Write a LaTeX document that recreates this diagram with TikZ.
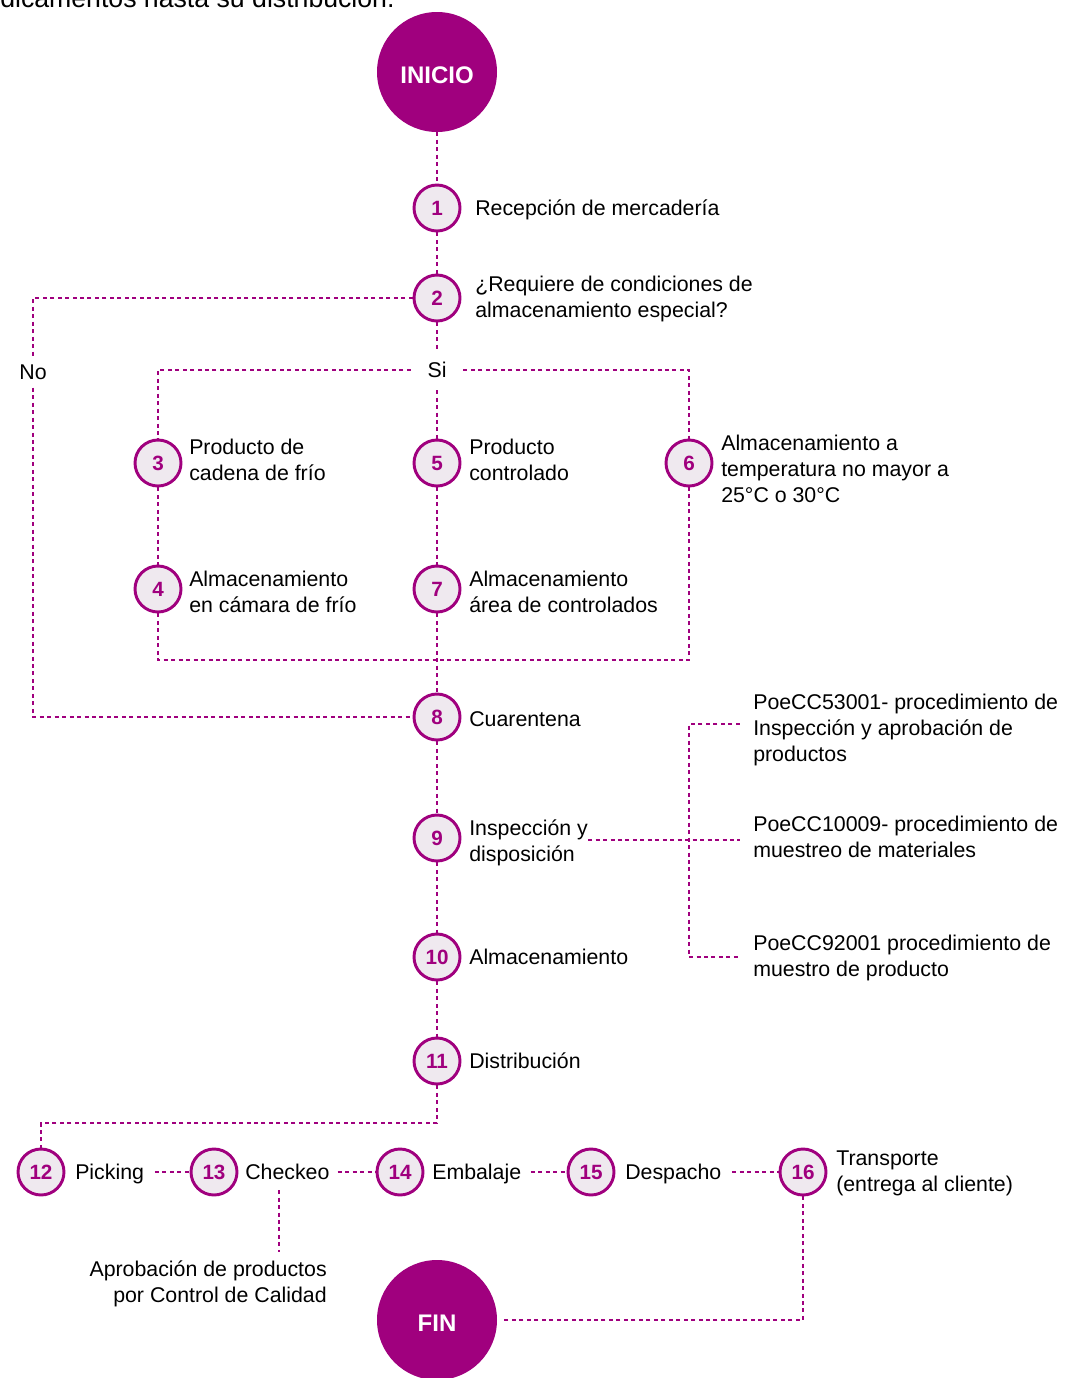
\documentclass[tikz,border=0pt]{standalone}
\usepackage{fontspec}
\setmainfont{Liberation Sans}
\definecolor{mag}{HTML}{A0007E}
\definecolor{pale}{HTML}{EFE9EF}
\begin{document}
\begin{tikzpicture}[x=0.75pt,y=-0.75pt,
  num/.style={circle, draw=mag, fill=pale, line width=2.2pt, minimum size=34.5pt, inner sep=0pt, text=mag, font=\fontsize{15.5}{18}\selectfont\bfseries},
  big/.style={circle, fill=mag, minimum size=90pt, inner sep=0pt, text=white, font=\fontsize{18}{22}\selectfont\bfseries},
  lbl/.style={anchor=base west, inner sep=0pt, align=left, font=\fontsize{16}{19.5}\selectfont},
  lblr/.style={anchor=base east, inner sep=0pt, align=right, font=\fontsize{16}{19.5}\selectfont},
  dl/.style={draw=mag, line width=1.7pt, dash pattern=on 3pt off 2.6pt}]
\useasboundingbox (0,0) rectangle (1065,1378);

\node[anchor=base west, inner sep=0pt, font=\fontsize{20}{24}\selectfont] (top) at (0,7) {dicamentos hasta su distribución.};

% big circles
\node[big] (start) at (437,72) {\raisebox{-2.2pt}[\height][0pt]{INICIO}};
\node[big] (fin) at (437,1320) {\raisebox{-2.2pt}[\height][0pt]{FIN}};

% numbered circles
\node[num] (c1) at (437,208) {1};
\node[num] (c2) at (437,298) {2};
\node[num] (c3) at (158,463) {3};
\node[num] (c5) at (437,463) {5};
\node[num] (c6) at (689,463) {6};
\node[num] (c4) at (158,589) {4};
\node[num] (c7) at (437,589) {7};
\node[num] (c8) at (437,717) {8};
\node[num] (c9) at (437,838) {9};
\node[num] (c10) at (437,957) {10};
\node[num] (c11) at (437,1061) {11};
\node[num] (c12) at (41,1172) {12};
\node[num] (c13) at (214,1172) {13};
\node[num] (c14) at (400,1172) {14};
\node[num] (c15) at (591,1172) {15};
\node[num] (c16) at (803,1172) {16};

% decision labels
\node[font=\fontsize{16}{19.5}\selectfont, inner xsep=2pt, inner ysep=6pt] (no) at (33,372) {No};
\node[font=\fontsize{16}{19.5}\selectfont, inner xsep=12.5pt, inner ysep=9pt] (si) at (437,370) {Si};

% labels (base anchor = baseline of the last line)
\node[lbl] (l1) at (475,215) {Recepción de mercadería};
\node[lbl] (l2) at (475,317) {¿Requiere de condiciones de\\almacenamiento especial?};
\node[lbl] (l3) at (189,480) {Producto de\\cadena de frío};
\node[lbl] (l5) at (469,480) {Producto\\controlado};
\node[lbl] (l6) at (721,502) {Almacenamiento a\\temperatura no mayor a\\25°C o 30°C};
\node[lbl] (l4) at (189,612) {Almacenamiento\\en cámara de frío};
\node[lbl] (l7) at (469,612) {Almacenamiento\\área de controlados};
\node[lbl] (l8) at (469,726) {Cuarentena};
\node[lbl] (l9) at (469,861) {Inspección y\\disposición};
\node[lbl] (l10) at (469,964) {Almacenamiento};
\node[lbl] (l11) at (469,1068) {Distribución};
\node[lbl] (p1) at (753,761) {PoeCC53001- procedimiento de\\Inspección y aprobación de\\productos};
\node[lbl] (p2) at (753,857) {PoeCC10009- procedimiento de\\muestreo de materiales};
\node[lbl] (p3) at (753,976) {PoeCC92001 procedimiento de\\muestro de producto};
\node[lbl] (l12) at (75,1179) {Picking};
\node[lbl] (l13) at (245,1179) {Checkeo};
\node[lbl] (l14) at (432,1179) {Embalaje};
\node[lbl] (l15) at (625,1179) {Despacho};
\node[lbl] (l16) at (836,1191) {Transporte\\(entrega al cliente)};
\node[lblr] (ap) at (327,1302) {Aprobación de productos\\por Control de Calidad};

% helper coordinates
\coordinate (jb) at (437,660);
\coordinate (j11) at (437,1123);
\coordinate (b1) at (689,724);
\coordinate (b3) at (689,957);
\coordinate (ax) at (279,0);
\coordinate (b2) at (689,840);

% connectors
\draw[dl] (start) -- (c1);
\draw[dl] (c1) -- (c2);
\draw[dl] (c2) -| (no);
\draw[dl] (no) |- (c8);
\draw[dl] (c2) -- (si);
\draw[dl] (si) -| (c3);
\draw[dl] (si) -| (c6);
\draw[dl] (si) -- (c5);
\draw[dl] (c3) -- (c4);
\draw[dl] (c5) -- (c7);
\draw[dl] (c4) |- (jb) -| (c6);
\draw[dl] (c7) -- (c8);
\draw[dl] (c8) -- (c9);
\draw[dl] (c9) -- (c10);
\draw[dl] (c10) -- (c11);
\draw[dl] (c11) -- (j11) -| (c12);
\draw[dl, shorten >=10pt] (l9.east |- b2) -- (b2 -| p2.west);
\draw[dl, shorten <=10pt, shorten >=11pt] (b1 -| p1.west) -- (b1) -- (b3) -- (b3 -| p3.west);
\draw[dl, shorten <=8pt] (l12.east |- c13) -- (c13);
\draw[dl, shorten <=6pt] (l13.east |- c14) -- (c14);
\draw[dl, shorten <=7pt] (l14.east |- c15) -- (c15);
\draw[dl, shorten <=8pt] (l15.east |- c16) -- (c16);
\draw[dl, shorten <=8pt, shorten >=6pt] (l13.south -| ax) -- (ap.north -| ax);
\draw[dl, shorten >=3pt] (c16) |- (fin);
\end{tikzpicture}
\end{document}
